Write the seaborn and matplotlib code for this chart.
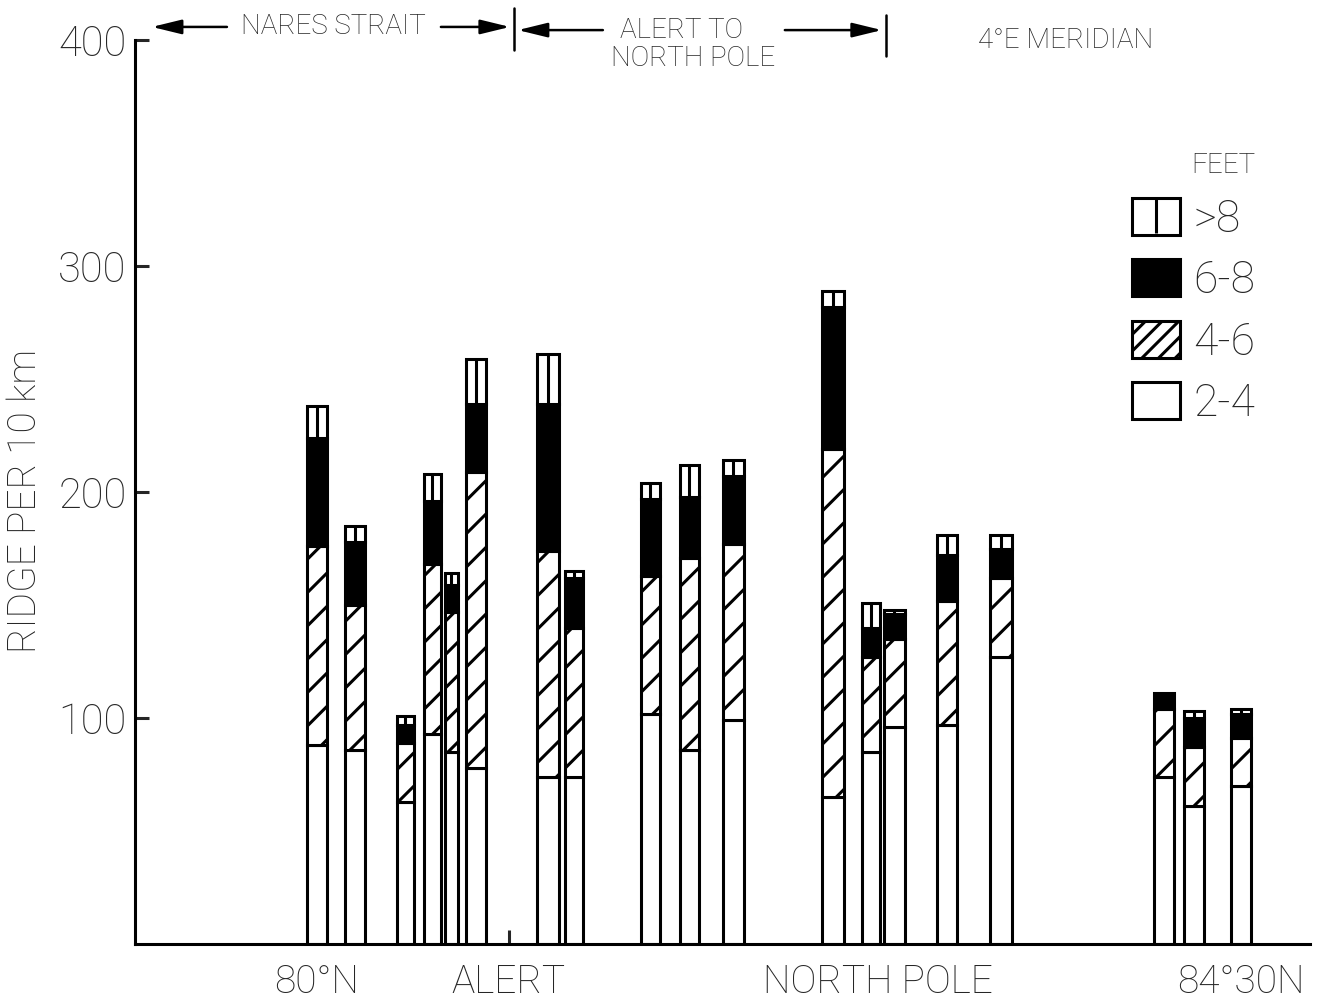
import numpy as np
import seaborn as sns
import matplotlib.pyplot as plt
from matplotlib.patches import Patch
from matplotlib.lines import Line2D
from matplotlib.legend_handler import HandlerTuple


# ridge counts per 10 km for each height class (feet), one value per station
track_pos = [18.2, 22.0, 27.05, 29.75, 31.65, 34.1, 41.3, 43.9, 51.55, 55.45,
             59.85, 69.8, 73.6, 75.95, 81.2, 86.6, 102.9, 105.9, 110.6]
ft_2_4 = [88, 86, 63, 93, 85, 78, 74, 74, 102, 86, 99, 65, 85, 96, 97, 127, 74, 61, 70]
ft_4_6 = [88, 64, 26, 75, 62, 131, 100, 66, 61, 85, 78, 154, 42, 39, 55, 35, 30, 26, 21]
ft_6_8 = [48, 28, 8, 28, 12, 30, 65, 22, 34, 27, 30, 63, 13, 11, 20, 13, 7, 13, 11]
ft_gt8 = [14, 7, 4, 12, 5, 20, 22, 3, 7, 14, 7, 7, 11, 2, 9, 6, 0, 3, 2]

place_pos = [18.2, 37.4, 74.3, 110.6]
place_names = ['80°N', 'ALERT', 'NORTH POLE', '84°30N']

bar_w = [2.0, 2.0, 1.7, 1.7, 1.3, 2.0, 2.2, 1.8, 1.9, 1.9,
         2.1, 2.2, 1.8, 2.1, 2.0, 2.2, 2.0, 2.0, 2.0]

sns.set_style('ticks')
plt.rcParams['font.family'] = ['Roboto', 'DejaVu Sans']
plt.rcParams['font.weight'] = 'light'
plt.rcParams['axes.labelweight'] = 'light'
plt.rcParams['hatch.linewidth'] = 1.1
plt.rcParams['hatch.color'] = 'black'

fig = plt.figure(figsize=(6.615, 5.03), dpi=200)
ax = fig.add_axes([0.102, 0.0616, 0.888, 0.8986])

x = np.array(track_pos)
b1 = np.array(ft_2_4, dtype=float)
b2 = b1 + np.array(ft_4_6)
b3 = b2 + np.array(ft_6_8)
b4 = b3 + np.array(ft_gt8)

lw = 1.1
ax.bar(x, ft_2_4, width=bar_w, color='white', edgecolor='black', linewidth=lw)
ax.bar(x, ft_4_6, bottom=b1, width=bar_w, color='white', edgecolor='black',
       linewidth=lw, hatch='//')
ax.bar(x, ft_6_8, bottom=b2, width=bar_w, color='black', edgecolor='black', linewidth=lw)
has8 = np.array(ft_gt8) > 0
ax.bar(x[has8], np.array(ft_gt8)[has8], bottom=b3[has8], width=np.array(bar_w)[has8],
       color='white', edgecolor='black', linewidth=lw)
ax.vlines(x[has8], b3[has8], b4[has8], color='black', linewidth=lw)

ax.set_xlim(0, 117.5)
ax.set_ylim(0, 400)
ax.set_yticks([100, 200, 300, 400])
ax.set_xticks(place_pos)
ax.set_xticklabels(place_names)
ax.tick_params(axis='y', direction='in', length=5, width=lw, labelsize=15, pad=3)
ax.tick_params(axis='x', direction='in', length=5, width=lw, labelsize=14, pad=7)
for s in ['left', 'bottom']:
    ax.spines[s].set_linewidth(lw)
    ax.spines[s].set_color('black')
sns.despine(ax=ax)

ax.set_ylabel('RIDGE PER 10 km', fontsize=14, fontweight='light')
ax.yaxis.set_label_coords(-0.077, 0.49)

# section labels along the top
arrow = dict(arrowstyle='-|>,head_length=0.9,head_width=0.22', color='black',
             linewidth=0.9, shrinkA=0, shrinkB=0)
ax.text(19.8, 405.8, 'NARES STRAIT', ha='center', va='center', fontsize=10, clip_on=False)
ax.annotate('', xy=(1.7, 405.8), xytext=(9.2, 405.8), arrowprops=arrow, annotation_clip=False)
ax.annotate('', xy=(37.5, 405.8), xytext=(30.6, 405.8), arrowprops=arrow, annotation_clip=False)
ax.plot([37.9, 37.9], [395.5, 414], color='black', linewidth=0.9, clip_on=False)

ax.text(54.7, 404.4, 'ALERT TO', ha='center', va='center', fontsize=10, clip_on=False)
ax.text(55.8, 392, 'NORTH POLE', ha='center', va='center', fontsize=10, clip_on=False)
ax.annotate('', xy=(38.3, 404.4), xytext=(46.8, 404.4), arrowprops=arrow, annotation_clip=False)
ax.annotate('', xy=(74.7, 404.4), xytext=(65.0, 404.4), arrowprops=arrow, annotation_clip=False)
ax.plot([75.1, 75.1], [393, 411], color='black', linewidth=0.9, clip_on=False)

ax.text(93.1, 400, '4°E MERIDIAN', ha='center', va='center', fontsize=10, clip_on=False)

# legend
h_gt8 = (Patch(facecolor='white', edgecolor='black', linewidth=lw),
         Line2D([], [], marker='|', markersize=13, markeredgewidth=lw,
                color='black', linestyle='none'))
h_68 = Patch(facecolor='black', edgecolor='black', linewidth=lw)
h_46 = Patch(facecolor='white', edgecolor='black', linewidth=lw, hatch='////')
h_24 = Patch(facecolor='white', edgecolor='black', linewidth=lw)
leg = ax.legend([h_gt8, h_68, h_46, h_24], ['>8', '6-8', '4-6', '2-4'],
                title='FEET', loc='upper left', alignment='right',
                bbox_to_anchor=(1110 / 1323, 1 - 130 / 1006),
                bbox_transform=fig.transFigure, frameon=False, fontsize=16,
                title_fontsize=10, handlelength=1.08, handleheight=0.9,
                handletextpad=0.3, labelspacing=0.42, borderpad=0,
                handler_map={tuple: HandlerTuple(ndivide=1)})

fig.savefig('out.png', dpi=200, facecolor='white')
